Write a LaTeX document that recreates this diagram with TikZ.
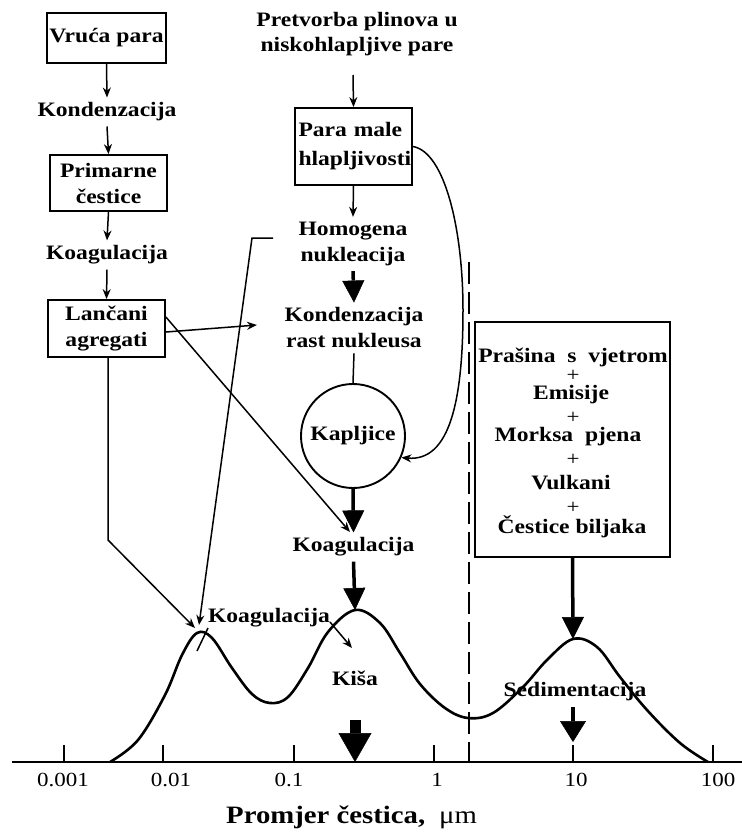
\documentclass[tikz,border=0pt]{standalone}
\usepackage{fontspec}
\setmainfont[FakeStretch=1.15]{Liberation Serif}
\usetikzlibrary{arrows.meta}
\begin{document}
\begin{tikzpicture}[x=1pt,y=-1pt,
  lbl/.style={font=\fontsize{20.5}{26}\selectfont\bfseries, inner sep=5pt, align=center},
  boxn/.style={draw, line width=1.8pt, inner sep=0pt, align=center, font=\fontsize{20.5}{26}\selectfont\bfseries},
  axl/.style={font=\fontsize{20}{24}\selectfont, inner sep=0pt},
  plusn/.style={font=\fontsize{20}{24}\selectfont, inner sep=0pt},
  tarrow/.style={line width=1.5pt, -{Stealth[length=10pt,width=8pt]}},
  barrow/.style={line width=3.5pt, -{Triangle[length=22pt,width=22pt,line width=0.5pt]}},
  tline/.style={line width=1.5pt}
]
\useasboundingbox (0,0) rectangle (742,836);
\fill[white] (0,0) rectangle (742,836);

% left column
\node[boxn, minimum width=119pt, minimum height=50pt] (vruca) at (106.5,38) {Vruća para};
\node[lbl] (kond1) at (107,112) {Kondenzacija};
\node[boxn, minimum width=117pt, minimum height=56pt] (prim) at (108.5,183) {Primarne\\čestice};
\node[lbl] (koag1) at (107,255) {Koagulacija};
\node[boxn, minimum width=117pt, minimum height=57pt] (lanc) at (106.5,328.5) {Lančani\\agregati};

\draw[tarrow] (vruca.south) -- (kond1.north);
\draw[tarrow] (kond1.south) -- (prim.north);
\draw[tarrow] (prim.south) -- (koag1.north);
\draw[tarrow] (koag1.south) -- (lanc.north);

% middle column
\node[lbl, font=\fontsize{20.5}{25}\selectfont\bfseries] (pretv) at (357,34) {Pretvorba plinova u\\niskohlapljive pare};
\node[boxn, minimum width=117pt, minimum height=77pt, align=left, text width=110pt, font=\fontsize{20.5}{29}\selectfont\bfseries] (para) at (353.5,146.5) {Para male\\hlapljivosti};
\node[lbl] (homog) at (353,244) {Homogena\\nukleacija};
\node[lbl] (kondr) at (354,328) {Kondenzacija\\rast nukleusa};
\node[draw, circle, line width=1.9pt, minimum size=104pt, inner sep=0pt, font=\fontsize{20.5}{24}\selectfont\bfseries] (kap) at (353,436) {Kapljice};
\node[lbl] (koag2) at (353.5,547) {Koagulacija};

\coordinate (pin) at (353,75);
\draw[tarrow] (pin) -- (para.north);
\draw[tarrow] (para.south) -- (homog.north);
\draw[barrow] (homog.south) -- (kondr.north);
\draw[tline] (kondr.south) -- (kap.north);
\draw[barrow] (kap.south) -- (koag2.north);
\draw[tarrow] (para.east) .. controls (445,152) and (463,230) .. (463,310)
   .. controls (463,400) and (450,462) .. (kap.-24);

% connectors from Lancani agregati
\coordinate (kin) at (257,325);
\coordinate (kc) at (350,532);
\coordinate (lbend) at (108,540);
\coordinate (pk1a) at (195,628);
\draw[tarrow] ([yshift=-3.5pt]lanc.east) -- (kin);
\draw[tarrow] ([yshift=11.5pt]lanc.east) -- (kc);
\draw[tarrow] (lanc.south -| lbend) -- (lbend) -- (pk1a);

% hook arrow from Homogena nukleacija
\coordinate (hk1) at (273,238);
\coordinate (hk2) at (252,238);
\coordinate (pk1b) at (199,625);
\draw[tarrow] (hk1) -- (hk2) -- (pk1b);

% dashed separator
\coordinate (dsh1) at (469,262);
\coordinate (dsh2) at (469,762);
\draw[line width=1.4pt, dash pattern=on 22pt off 8pt] (dsh1) -- (dsh2);

% right box
\node[draw, line width=1.8pt, minimum width=195pt, minimum height=235pt, inner sep=0pt] (src) at (572.5,439.5) {};
\node[lbl, inner sep=0pt] (s1) at (573,357) {Prašina\ \ s\ \ vjetrom};
\node[plusn] (p1) at (573,376) {+};
\node[lbl, inner sep=0pt] (s2) at (571,395) {Emisije};
\node[plusn] (p2) at (573,418) {+};
\node[lbl, inner sep=0pt] (s3) at (568,437) {Morksa\ \ pjena};
\node[plusn] (p3) at (573,460) {+};
\node[lbl, inner sep=0pt] (s4) at (571,483) {Vulkani};
\node[plusn] (p4) at (573,508) {+};
\node[lbl, inner sep=0pt] (s5) at (572,527) {Čestice biljaka};

% arrows to peaks
\coordinate (pk2) at (355,610);
\coordinate (pk3) at (573,639);
\draw[barrow] (koag2.south) -- (pk2);
\draw[barrow] (src.south) -- (pk3);

% distribution curve
\draw[line width=2.6pt, line join=round] plot[smooth, tension=0.6] coordinates {
 (110,762) (138,740) (165,695) (182,655) (197,633) (212,638) (232,668) (252,694)
 (270,703) (288,697) (308,668) (328,632) (355,610) (380,623) (400,653) (420,684)
 (445,708) (468,718) (493,713) (523,687) (547,660) (573,639) (597,647) (620,677)
 (647,710) (680,743) (708,762)};

% labels on curve
\node[lbl, inner sep=0pt] (koag3) at (269,618) {Koagulacija};
\node[lbl, inner sep=0pt] (kisa) at (355,678) {Kiša};
\node[lbl, inner sep=0pt] (sedi) at (575,692) {Sedimentacija};
\coordinate (sl1) at (208,628);
\coordinate (sl2) at (197,651);
\draw[tline] (sl1) -- (sl2);
\coordinate (ka1) at (330,622);
\coordinate (ka2) at (352,648);
\draw[tarrow] (ka1) -- (ka2);

% bottom arrows
\coordinate (ar1a) at (355,720);
\coordinate (ar1b) at (355,762);
\draw[line width=11pt, -{Triangle[length=29pt,width=33pt,line width=0.5pt]}] (ar1a) -- (ar1b);
\coordinate (ar2a) at (573,707);
\coordinate (ar2b) at (573,742);
\draw[line width=3.5pt, -{Triangle[length=21pt,width=26pt,line width=0.5pt]}] (ar2a) -- (ar2b);

% axis
\coordinate (ax1) at (12,762);
\coordinate (ax2) at (742,762);
\draw[line width=2pt] (ax1) -- (ax2);
\foreach \x in {64,163,294,434,573,713} \draw[line width=1.3pt] (\x,762) -- (\x,745);
\node[axl] (t1) at (63,780) {0.001};
\node[axl] (t2) at (171,780) {0.01};
\node[axl] (t3) at (289,780) {0.1};
\node[axl] (t4) at (437,780) {1};
\node[axl] (t5) at (576,780) {10};
\node[axl] (t6) at (718,780) {100};

\node[anchor=west, inner sep=0pt, font=\fontsize{25}{30}\selectfont\bfseries] (title) at (226,817) {Promjer čestica,\hspace{14pt}{\mdseries μm}};
\end{tikzpicture}
\end{document}
